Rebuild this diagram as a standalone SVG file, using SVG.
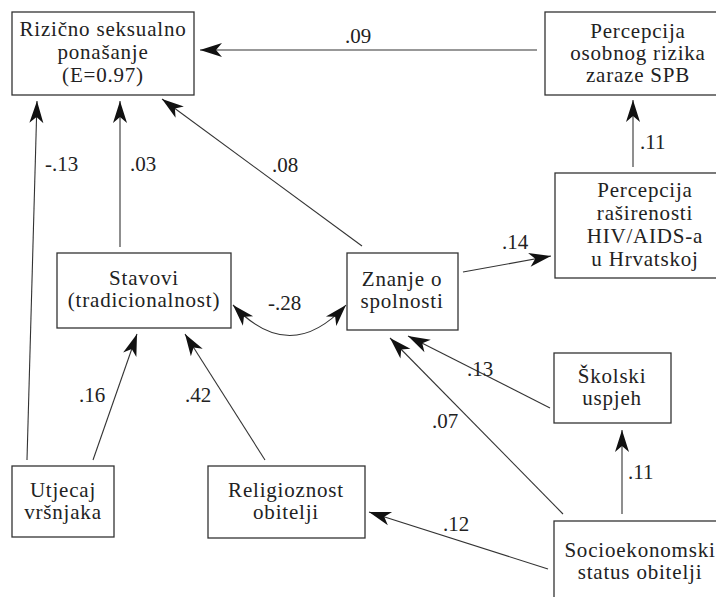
<svg xmlns="http://www.w3.org/2000/svg" width="716" height="597" viewBox="0 0 716 597">
<style>
.box{fill:#fff;stroke:#333;stroke-width:1.3}
text{font-family:'Liberation Serif','Times New Roman',Times,'DejaVu Serif','Noto Serif',serif;font-size:21px;fill:#222}
.t{text-anchor:middle;letter-spacing:0.8px}
.c{fill:none;stroke:#333;stroke-width:1.1}
</style>
<defs>
<marker id="ah" markerUnits="userSpaceOnUse" markerWidth="30" markerHeight="20" viewBox="-24 -10 26 20" refX="0" refY="0" orient="auto-start-reverse">
<path d="M0,0 L-22,-7 L-16,0 L-22,7 Z" fill="#111"/>
</marker>
</defs>
<rect width="716" height="597" fill="#fff"/>
<g id="connectors">
<line class="c" x1="537" y1="50" x2="200" y2="50" marker-end="url(#ah)"/>
<line class="c" x1="27" y1="460" x2="37" y2="101" marker-end="url(#ah)"/>
<line class="c" x1="120" y1="247" x2="120" y2="101" marker-end="url(#ah)"/>
<line class="c" x1="362" y1="246" x2="162" y2="99" marker-end="url(#ah)"/>
<line class="c" x1="463" y1="272" x2="551" y2="256" marker-end="url(#ah)"/>
<line class="c" x1="633" y1="167" x2="633" y2="100" marker-end="url(#ah)"/>
<path class="c" d="M233,305 Q290,366 346,305" marker-start="url(#ah)" marker-end="url(#ah)"/>
<line class="c" x1="93" y1="460" x2="137" y2="334" marker-end="url(#ah)"/>
<line class="c" x1="265" y1="460" x2="185" y2="334" marker-end="url(#ah)"/>
<line class="c" x1="550" y1="408" x2="408" y2="336" marker-end="url(#ah)"/>
<line class="c" x1="563" y1="514" x2="390" y2="338" marker-end="url(#ah)"/>
<line class="c" x1="622" y1="514" x2="622" y2="430" marker-end="url(#ah)"/>
<line class="c" x1="548" y1="569" x2="369" y2="512" marker-end="url(#ah)"/>
<text x="345" y="43">.09</text>
<text x="45" y="171">-.13</text>
<text x="130" y="171">.03</text>
<text x="272" y="172">.08</text>
<text x="502" y="249">.14</text>
<text x="640" y="149">.11</text>
<text x="268" y="310">-.28</text>
<text x="79" y="402">.16</text>
<text x="185" y="402">.42</text>
<text x="467" y="376">.13</text>
<text x="432" y="428">.07</text>
<text x="628" y="479">.11</text>
<text x="443" y="531">.12</text>
</g>
<g id="rizicno">
<rect class="box" x="12" y="12" width="182" height="83"/>
<text class="t" x="103" y="36">Rizično seksualno</text>
<text class="t" x="103" y="59">ponašanje</text>
<text class="t" x="103" y="82">(E=0.97)</text>
</g>
<g id="osobni-rizik">
<rect class="box" x="545" y="12" width="190" height="83"/>
<text class="t" x="638" y="38">Percepcija</text>
<text class="t" x="638" y="60">osobnog rizika</text>
<text class="t" x="638" y="82">zaraze SPB</text>
</g>
<g id="hiv">
<rect class="box" x="555" y="173" width="180" height="105"/>
<text class="t" x="645" y="197">Percepcija</text>
<text class="t" x="645" y="220">raširenosti</text>
<text class="t" x="645" y="243">HIV/AIDS-a</text>
<text class="t" x="645" y="266">u Hrvatskoj</text>
</g>
<g id="stavovi">
<rect class="box" x="57" y="253" width="174" height="75"/>
<text class="t" x="144" y="285">Stavovi</text>
<text class="t" x="144" y="307">(tradicionalnost)</text>
</g>
<g id="znanje">
<rect class="box" x="347" y="253" width="111" height="77"/>
<text class="t" x="402" y="286">Znanje o</text>
<text class="t" x="402" y="308">spolnosti</text>
</g>
<g id="skolski">
<rect class="box" x="554" y="353" width="117" height="70"/>
<text class="t" x="612" y="383">Školski</text>
<text class="t" x="612" y="405">uspjeh</text>
</g>
<g id="utjecaj">
<rect class="box" x="12" y="466" width="102" height="71"/>
<text class="t" x="63" y="497">Utjecaj</text>
<text class="t" x="63" y="519">vršnjaka</text>
</g>
<g id="religioznost">
<rect class="box" x="208" y="466" width="157" height="72"/>
<text class="t" x="286" y="497">Religioznost</text>
<text class="t" x="286" y="519">obitelji</text>
</g>
<g id="socio">
<rect class="box" x="554" y="521" width="172" height="90"/>
<text class="t" x="640" y="557">Socioekonomski</text>
<text class="t" x="640" y="579">status obitelji</text>
</g>
</svg>
